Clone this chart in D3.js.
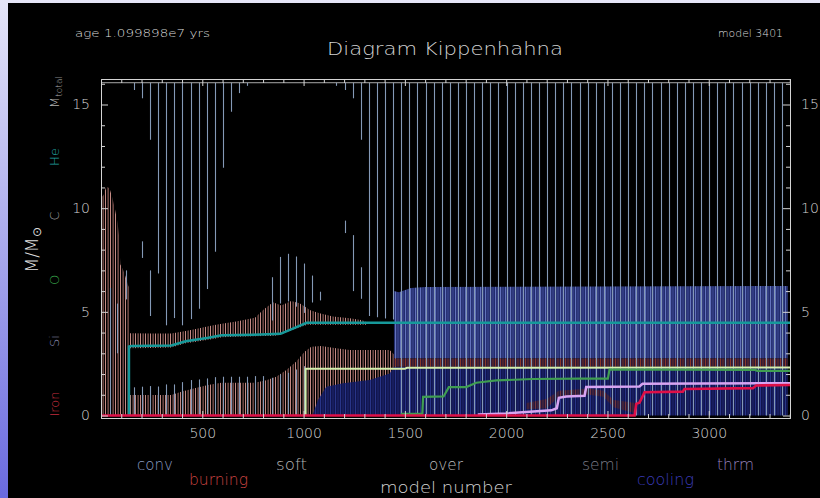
<!DOCTYPE html>
<html><head><meta charset="utf-8">
<script src="https://cdn.jsdelivr.net/npm/d3@7"></script>
<style>
html,body{margin:0;padding:0;background:#000;}
svg{display:block;}
text{font-family:"DejaVu Sans","Open Sans",sans-serif;font-weight:200;}
</style></head><body>
<svg id="c" width="820" height="498"></svg>
<script>
// ---------------- DATA ----------------
const modelRange = [0, 3401];
const massRange = [-0.12, 16.23];
const mTotal = 16.05;
const xMajorTicks = [500, 1000, 1500, 2000, 2500, 3000];
const xMinorTicks = [100,200,300,400,600,700,800,900,1100,1200,1300,1400,1600,1700,1800,1900,2100,2200,2300,2400,2600,2700,2800,2900,3100,3200,3300,3400];
const yMajorTicks = [0, 5, 10, 15];
const yMinorTicks = [1,2,3,4,6,7,8,9,11,12,13,14,16];

// sampled models where convection is drawn
const convModel = [162,202,242,282,322,362,402,442,482,522,562,602,642,682,722,762,802,842,882,922,962,1002,1042,1082,1122,1162,1202,1242,1282,1322,1362,1402,1442,1482,1522,1562,1602,1642,1682,1722,1762,1802,1842,1882,1922,1962,2002,2042,2082,2122,2162,2202,2242,2282,2322,2362,2402,2442,2482,2522,2562,2602,2642,2682,2722,2762,2802,2842,2882,2922,2962,3002,3042,3082,3122,3162,3202,3242,3282,3322,3362];
// bottom of the convective envelope (top = M_total); null = no envelope
const convEnvBottom = [15.7,15.3,13.3,6.85,4.35,4.7,4.35,4.65,5.15,6.1,7.9,11.95,14.65,15.55,15.9,
  null,null,null,null,null,null,null,null,null,null,
  15.9,15.7,15.3,13.3,4.8,4.74,4.68,4.63,
  0,0,0,0,0,0,0,0,0,0,0,0,0,0,0,0,0,0,0,0,0,0,0,0,0,0,0,0,0,0,0,0,0,0,0,0,0,0,0,0,0,0,0,0,0,0,0,0];
// top of convective core (bottom = 0) for first convModel entries
const convCoreTop = [1.36,1.39,1.42,1.40,1.5,1.5,1.61,1.71,1.74,1.79,1.85,1.87,1.87,1.87,1.87,1.9,1.9,1.82,1.98,2.06,2.22,2.38];
// isolated convective segments [model, lo, hi]
const convSegments = [[42,0,6.15],[79,3.0,5.4],[121,5.6,7.0],[202,7.6,8.4],[242,4.8,7.0],
  [842,4.58,6.67],[882,5.4,7.65],[922,5.5,7.8],[962,5.25,7.67],[1002,4.95,7.33],[1042,5.45,6.75],[1082,5.55,5.97],
  [1202,8.8,9.4],[1242,6.0,8.7],[1282,5.63,7.15]];

// burning zones [model, lo, hi]
const burnEarly = [[0,0,10.5],[13,0,10.64],[26,0,11.04],[42,0,10.96],[56,0,10.5],[69,0,9.95],[82,0,9.28],[90,0,8.6],[95,0,7.3],[108,0,7.05],[121,0,6.7],[133,0,6.3],[138,0,6.2]];
const burnUpper = [[140,3.24,3.97],[250,3.26,3.96],[347,3.28,3.95],[418,3.48,4.08],[462,3.55,4.16],[530,3.65,4.3],[561,3.7,4.37],[595,3.77,4.42],[660,3.8,4.52],[760,3.82,4.72],[800,3.83,5.09],[849,3.84,5.46],[890,3.9,5.3],[939,4.1,5.52],[980,4.25,5.41],[1015,4.37,5.2],[1030,4.38,5.09],[1079,4.38,4.93],[1145,4.38,4.77],[1228,4.38,4.69],[1291,4.38,4.6],[1310,4.38,4.5]];
const burnLower = [[140,0,0.99],[347,0,0.99],[396,0,1.15],[462,0,1.31],[528,0,1.47],[594,0,1.58],[758,0,1.58],[816,0,1.7],[865,0,1.87],[915,0,2.19],[964,0,2.6],[1005,0,3.08],[1038,0,3.32],[1087,0,3.35],[1161,0,3.24],[1228,0,3.16],[1425,0,3.16],[1449,0,2.92],[1460,0,2.75]];
const burnBand = [[1446,2.35,2.75],[3390,2.35,2.75]];
const burnShell = [[2100,0.3,0.6],[2200,0.35,0.8],[2260,0.9,1.2],[2410,1.0,1.3],[2480,0.9,1.2],[2530,0.4,0.75],[2640,0.1,0.6]];
// cooling zones [model, lo, hi]
const coolLower = [[1040,0,0],[1046,0,0.07],[1071,0,0.75],[1112,0,1.39],[1194,0,1.55],[1326,0,1.71],[1425,0,2.03],[1446,0,2.35],[3390,0,2.35]];
const coolUpper = [[1446,2.75,6.0],[1470,2.75,5.95],[1530,2.75,6.15],[1600,2.75,6.2],[3390,2.75,6.25]];

// core boundaries [model, mass]
const heCore = [[138,0],[138,3.33],[150,3.35],[347,3.38],[418,3.58],[530,3.75],[595,3.87],[753,3.9],[886,3.94],[950,4.2],[1015,4.47],[3401,4.47]];
const cCore = [[1010,0],[1010,2.25],[1500,2.25],[1510,2.3],[3401,2.32]];
const oCore = [[1480,0.08],[1586,0.08],[1590,0.9],[1691,0.92],[1717,1.37],[1803,1.37],[1852,1.58],[1951,1.69],[2130,1.76],[2362,1.78],[2502,1.78],[2510,2.22],[3230,2.2],[3240,2.15],[3401,2.15]];
const siCore = [[1860,0.05],[2000,0.1],[2223,0.25],[2250,0.35],[2260,0.85],[2297,0.92],[2387,0.95],[2395,1.37],[2658,1.4],[2673,1.53],[3401,1.56]];
const feCore = [[0,0],[2634,0],[2642,0.56],[2658,0.62],[2683,1.12],[2872,1.15],[2880,1.28],[3218,1.32],[3234,1.45],[3401,1.47]];

const ageText = "age 1.099898e7 yrs";
const modelText = "model 3401";
const titleText = "Diagram Kippenhahna";
const xTitle = "model number";
const legendTop = ["conv", "soft", "over", "semi", "thrm"];
const legendBottom = ["burning", "cooling"];
const sideNames = ["M", "He", "C", "O", "Si", "Iron"];

// ---------------- LAYOUT ----------------
const svg = d3.select("#c");
const W = 820, H = 498;
const x = d3.scaleLinear().domain(modelRange).range([101, 790]);
const y = d3.scaleLinear().domain(massRange).range([418, 79]);

const defs = svg.append("defs");
const bg = defs.append("linearGradient").attr("id","bg").attr("x1",0).attr("y1",0).attr("x2",0).attr("y2",1);
bg.append("stop").attr("offset","0%").attr("stop-color","#e6e6f8");
bg.append("stop").attr("offset","100%").attr("stop-color","#6a6ae0");
svg.append("rect").attr("width",W).attr("height",H).attr("fill","url(#bg)");
svg.append("rect").attr("x",8).attr("y",3).attr("width",W-8).attr("height",H-3).attr("fill","#000");

function stripePattern(id, base, stripes) {
  const p = defs.append("pattern").attr("id", id).attr("patternUnits","userSpaceOnUse")
    .attr("width", 5).attr("height", 4);
  if (base) p.append("rect").attr("width",5).attr("height",4).attr("fill",base);
  stripes.forEach(s => p.append("rect").attr("x",s[0]).attr("width",s[1]).attr("height",4).attr("fill",s[2]));
}
stripePattern("burnPat", null, [[0,1,"#c48a84"],[2.6,1,"#ad726c"]]);
stripePattern("navyPat", "#11154e", [[0,1,"#283488"],[2.5,1,"#1c2570"]]);
stripePattern("bluePat", "#222c6c", [[0,1.1,"#6272bc"],[2.5,1,"#3f4c98"]]);
stripePattern("brownPat", "#2e1838", [[0,1,"#8a3a2a"],[2.5,1,"#6e2e22"]]);

defs.append("clipPath").attr("id","clip").append("rect")
  .attr("x",101).attr("y",79).attr("width",689).attr("height",339);

const plot = svg.append("g").attr("clip-path","url(#clip)");
const area = d3.area().x(d => x(d[0])).y0(d => y(d[1])).y1(d => y(d[2]));

// burning
[burnEarly, burnUpper, burnLower].forEach(a =>
  plot.append("path").datum(a).attr("d", area).attr("fill","url(#burnPat)"));
// cooling
plot.append("path").datum(coolLower).attr("d", area).attr("fill","url(#navyPat)");
plot.append("path").datum(coolUpper).attr("d", area).attr("fill","url(#bluePat)");
plot.append("path").datum(burnBand).attr("d", area).attr("fill","url(#brownPat)");
plot.append("path").datum(burnShell).attr("d", area).attr("fill","url(#brownPat)").attr("opacity",0.75);

// convection
const convColor = "#8499b6";
const envData = convModel.map((m,i) => [m, convEnvBottom[i], mTotal]).filter(d => d[1] !== null);
const coreData = convCoreTop.map((t,i) => [convModel[i], 0, t]);
const allConv = envData.concat(coreData, convSegments);
plot.append("g").selectAll("line").data(allConv).join("line")
  .attr("x1", d => Math.round(x(d[0])) + 0.5).attr("x2", d => Math.round(x(d[0])) + 0.5)
  .attr("y1", d => y(d[1])).attr("y2", d => y(d[2]))
  .attr("stroke", convColor).attr("stroke-width", 1.1);

// total mass line
plot.append("line").attr("x1", x(modelRange[0])).attr("x2", x(modelRange[1]))
  .attr("y1", y(mTotal)).attr("y2", y(mTotal)).attr("stroke","#a8a8a8").attr("stroke-width",1);

// core boundaries
const line = d3.line().x(d => x(d[0])).y(d => y(d[1]));
const bounds = [
  [cCore, "#d6f0ae", 2],
  [heCore, "#16999a", 2.5],
  [oCore, "#3f9d52", 2.2],
  [siCore, "#d8a4f2", 2.5],
  [feCore, "#de1048", 2.6]
];
bounds.forEach(b => plot.append("path").datum(b[0]).attr("d", line)
  .attr("fill","none").attr("stroke", b[1]).attr("stroke-width", b[2]));

// axes
const axisCol = "#d4d4d4";
const fmt = d3.format("d");
function styleAxis(g) {
  g.selectAll(".domain").attr("stroke", axisCol);
  g.selectAll(".tick line").attr("stroke", axisCol);
  g.selectAll(".tick text").attr("fill","#d2d2d2").attr("font-size",14)
    .attr("font-family",'"DejaVu Sans",sans-serif').attr("font-weight",200);
}
svg.append("g").attr("transform","translate(0,418)")
  .call(d3.axisBottom(x).tickValues(xMinorTicks).tickSize(-4).tickSizeOuter(0).tickFormat("")).call(styleAxis);
svg.append("g").attr("transform","translate(0,418)")
  .call(d3.axisBottom(x).tickValues(xMajorTicks).tickSize(-7).tickSizeOuter(0).tickPadding(10).tickFormat(fmt)).call(styleAxis);
svg.append("g").attr("transform","translate(0,79)")
  .call(d3.axisTop(x).tickValues(xMinorTicks).tickSize(-4).tickSizeOuter(0).tickFormat("")).call(styleAxis);
svg.append("g").attr("transform","translate(0,79)")
  .call(d3.axisTop(x).tickValues(xMajorTicks).tickSize(-7).tickSizeOuter(0).tickFormat("")).call(styleAxis);
svg.append("g").attr("transform","translate(101,0)")
  .call(d3.axisLeft(y).tickValues(yMinorTicks).tickSize(-4).tickSizeOuter(0).tickFormat("")).call(styleAxis);
svg.append("g").attr("transform","translate(101,0)")
  .call(d3.axisLeft(y).tickValues(yMajorTicks).tickSize(-7).tickSizeOuter(0).tickPadding(11).tickFormat(fmt)).call(styleAxis);
svg.append("g").attr("transform","translate(790,0)")
  .call(d3.axisRight(y).tickValues(yMinorTicks).tickSize(-4).tickSizeOuter(0).tickFormat("")).call(styleAxis);
svg.append("g").attr("transform","translate(790,0)")
  .call(d3.axisRight(y).tickValues(yMajorTicks).tickSize(-7).tickSizeOuter(0).tickPadding(11).tickFormat(fmt)).call(styleAxis);

// texts
function txt(s, px, py, size, col, width, anchor) {
  const t = svg.append("text").attr("x", px).attr("y", py).attr("font-size", size)
    .attr("fill", col).attr("text-anchor", anchor || "start").text(s);
  if (width) t.attr("textLength", width).attr("lengthAdjust","spacingAndGlyphs");
  return t;
}
txt(ageText, 75, 37, 11, "#dcdcdc", 135);
txt(modelText, 718, 37, 11, "#dcdcdc", 65);
txt(titleText, 327, 55, 18, "#d4d4d4", 236);
txt(xTitle, 380, 493, 16, "#d4d4d4", 132);
const legTopStyle = [[137,36,"#8a9cc0"],[276,31,"#b4b4b4"],[429,34,"#bcbcbc"],[582,37,"#7a7a86"],[717,37,"#9482bc"]];
legendTop.forEach((s,i) => txt(s, legTopStyle[i][0], 470, 15, legTopStyle[i][2], legTopStyle[i][1]));
const legBotStyle = [[189,59,"#cc4442"],[637,57,"#3a3ab8"]];
legendBottom.forEach((s,i) => txt(s, legBotStyle[i][0], 485, 15, legBotStyle[i][2], legBotStyle[i][1]));

// rotated side labels
const sideStyle = [[92,"#b0b0b0"],[157,"#20a0a0"],[216,"#a8a8a8"],[280,"#36a048"],[341,"#9090b6"],[404,"#c22c3e"]];
sideNames.forEach((s,i) => {
  const t = svg.append("text").attr("transform",`translate(59,${sideStyle[i][0]}) rotate(-90)`)
    .attr("text-anchor","middle").attr("font-size",13).attr("fill",sideStyle[i][1]);
  t.append("tspan").text(s);
  if (i === 0) t.append("tspan").attr("font-size",9).attr("dy",3).text("total");
});
const ml = svg.append("text").attr("transform","translate(38,250) rotate(-90)")
  .attr("text-anchor","middle").attr("font-size",17).attr("fill","#dedede");
ml.append("tspan").text("M/M");
ml.append("tspan").attr("font-size",12).attr("dy",3).text("\u2299");
</script>
</body></html>
